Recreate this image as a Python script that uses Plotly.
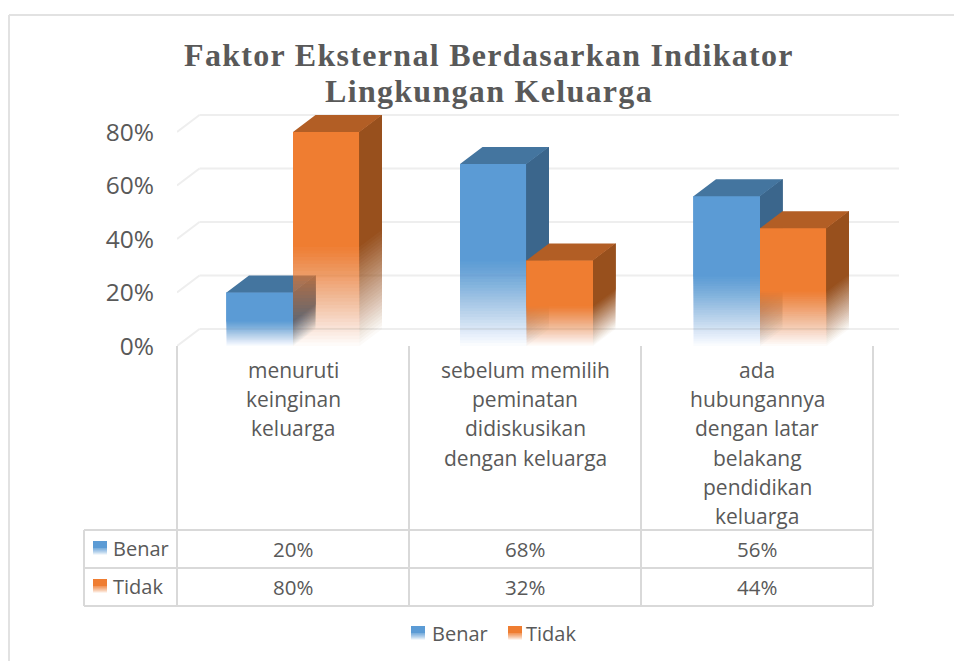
import plotly.graph_objects as go

title_text = "Faktor Eksternal Berdasarkan Indikator<br>Lingkungan Keluarga"
categories = [
    ["menuruti", "keinginan", "keluarga"],
    ["sebelum memilih", "peminatan", "didiskusikan", "dengan keluarga"],
    ["ada", "hubungannya", "dengan latar", "belakang", "pendidikan", "keluarga"],
]
series_names = ["Benar", "Tidak"]
benar = [20, 68, 56]
tidak = [80, 32, 44]
y_ticks = [0, 20, 40, 60, 80]
y_tick_labels = ["0%", "20%", "40%", "60%", "80%"]

W, H = 954, 661
TEXT = "#595959"
LINE = "#d9d9d9"
GRID = "#eeeeee"
FONT = "Open Sans"
BLUE = (91, 155, 213)
ORANGE = (239, 125, 49)
BLUE_TOP, BLUE_SIDE = "#44759f", "#3b668c"
ORANGE_TOP, ORANGE_SIDE = "#b25e25", "#98501d"


def px(x):
    return x / W


def py(y):
    return 1 - y / H


X0, X1, Y0, YT = 177, 899, 346, 100
UNIT_X = 233.5
UNIT_Y = 2.675
CAT0 = 293
x_range = [(X0 - CAT0) / UNIT_X, (X1 - CAT0) / UNIT_X]
y_range = [0, (Y0 - YT) / UNIT_Y]
DX = 22.5 / UNIT_X
DY = 17 / UNIT_Y
BW = 66.5 / UNIT_X
FADE_TOP = 0.48
STEPS = 30
xs = list(range(len(benar)))

fig = go.Figure()
shapes, annotations = [], []

for t in y_ticks:
    for (a, b, c, d) in [(x_range[0], t, x_range[0] + DX, t + DY), (x_range[0] + DX, t + DY, x_range[1], t + DY)]:
        shapes.append(dict(type="line", xref="x", yref="y", x0=a, y0=b, x1=c, y1=d,
                           line=dict(color=GRID, width=2), layer="below"))


def draw_series(values, rgb, top_col, side_col, offset, xa, ya, name):
    def rgba(c, a):
        return f"rgba({c[0]},{c[1]},{c[2]},{a:.4f})"

    side_rgb = tuple(int(side_col[i:i + 2], 16) for i in (1, 3, 5))
    prev = 0.0
    for k in range(STEPS):
        f0 = FADE_TOP * k / STEPS
        target = (k + 1) / STEPS
        a = 1 - (1 - target) / (1 - prev)
        prev = target
        fig.add_trace(go.Bar(x=xs, y=[v * (1 - f0) for v in values],
                             base=[v * f0 for v in values], width=BW, offset=offset,
                             marker=dict(color=rgba(rgb, a), line=dict(width=0)),
                             name=name, hoverinfo="skip" if k < STEPS - 1 else None,
                             showlegend=False, xaxis=xa, yaxis=ya))
        sx, sy = [], []
        for x, v in zip(xs, values):
            r = x + offset + BW
            sx += [r, r + DX, r + DX, r, r, None]
            sy += [v * f0, v * f0 + DY, v + DY, v, v * f0, None]
        fig.add_trace(go.Scatter(x=sx, y=sy, mode="lines", fill="toself", line=dict(width=0),
                                 fillcolor=rgba(side_rgb, a), hoverinfo="skip",
                                 showlegend=False, xaxis=xa, yaxis=ya))
    tx, ty = [], []
    for x, v in zip(xs, values):
        l = x + offset
        r = l + BW
        tx += [l, l + DX, r + DX, r, l, None]
        ty += [v, v + DY, v + DY, v, v, None]
    fig.add_trace(go.Scatter(x=tx, y=ty, mode="lines", fill="toself", line=dict(width=0),
                             fillcolor=top_col, hoverinfo="skip", showlegend=False, xaxis=xa, yaxis=ya))


draw_series(benar, BLUE, BLUE_TOP, BLUE_SIDE, -BW, "x", "y", series_names[0])
draw_series(tidak, ORANGE, ORANGE_TOP, ORANGE_SIDE, 0, "x2", "y2", series_names[1])


def line(x0, y0, x1, y1, color=LINE, width=2):
    shapes.append(dict(type="line", xref="paper", yref="paper", x0=px(x0), y0=py(y0),
                       x1=px(x1), y1=py(y1), line=dict(color=color, width=width), layer="above"))


def text(s, x, y, anchor="center", size=20.5):
    annotations.append(dict(text=s, xref="paper", yref="paper", x=px(x), y=py(y), xanchor=anchor,
                            yanchor="middle", showarrow=False, font=dict(family=FONT, size=size, color=TEXT)))


def swatch(x, y, rgb, size=14, n=10):
    solid = 0.55
    shapes.append(dict(type="rect", xref="paper", yref="paper", x0=px(x), x1=px(x + size), y0=py(y),
                       y1=py(y + size * solid), line=dict(width=0),
                       fillcolor=f"rgb({rgb[0]},{rgb[1]},{rgb[2]})", layer="above"))
    for i in range(n):
        a0 = y + size * (solid + (1 - solid) * i / n)
        a1 = y + size * (solid + (1 - solid) * (i + 1) / n)
        shapes.append(dict(type="rect", xref="paper", yref="paper", x0=px(x), x1=px(x + size), y0=py(a0),
                           y1=py(a1), line=dict(width=0), layer="above",
                           fillcolor=f"rgba({rgb[0]},{rgb[1]},{rgb[2]},{1 - (i + 0.5) / n:.3f})"))


line(9, 15, W, 15, "#e2e2e2", 2)
line(9, 15, 9, H, "#e2e2e2", 2)

SEP = [177, 409, 641, 873]
ROWS = [530, 568, 606]
for s in SEP:
    line(s, Y0, s, ROWS[-1])
for r in ROWS:
    line(84, r, 873, r)
line(84, ROWS[0], 84, ROWS[-1])

CENTERS = [(SEP[i] + SEP[i + 1]) / 2 for i in range(3)]
for c, lines_ in zip(CENTERS, categories):
    for i, ln in enumerate(lines_):
        text(ln, c, 370 + 29.2 * i, size=21)
for row, (nm, vals, rgb) in enumerate(zip(series_names, (benar, tidak), (BLUE, ORANGE))):
    ym = (ROWS[row] + ROWS[row + 1]) / 2
    swatch(93, ym - 8, rgb)
    text(nm, 111, ym - 0.5, "left", size=20)
    for c, v in zip(CENTERS, vals):
        text(f"{v}%", c, ym - 0.5)

swatch(411, 626, BLUE)
text(series_names[0], 430, 633, "left", size=20)
swatch(508, 626, ORANGE)
text(series_names[1], 524, 633, "left", size=20)

axis_common = dict(showgrid=False, zeroline=False, showline=False, ticks="", fixedrange=True)
fig.update_layout(
    width=W, height=H, margin=dict(l=0, r=0, t=0, b=0, autoexpand=False),
    paper_bgcolor="white", plot_bgcolor="rgba(0,0,0,0)",
    barmode="overlay", showlegend=False,
    title=dict(text=title_text, x=px(489), y=py(66), xanchor="center", yanchor="middle",
               font=dict(family="Liberation Serif", size=32, color=TEXT, weight=700)),
    xaxis=dict(domain=[px(X0), px(X1)], range=x_range, showticklabels=False, anchor="y", **axis_common),
    yaxis=dict(domain=[py(Y0), py(YT)], range=y_range, tickmode="array", tickvals=y_ticks, ticktext=y_tick_labels,
               ticklabelstandoff=22, anchor="x", tickfont=dict(family=FONT, size=24.5, color=TEXT), **axis_common),
    xaxis2=dict(domain=[px(X0), px(X1)], range=x_range, overlaying="x", visible=False, anchor="y2", **axis_common),
    yaxis2=dict(domain=[py(Y0), py(YT)], range=y_range, overlaying="y", visible=False, anchor="x2", **axis_common),
    shapes=shapes, annotations=annotations,
)

post = """
document.body.style.margin='0';
document.querySelectorAll('.gtitle').forEach(function(e){e.style.letterSpacing='1.3px';});
var ls=document.querySelectorAll('.gtitle tspan.line');
if(ls.length>1){ls[1].setAttribute('dy','36px');}
"""
fig.write_html("out.html", config={"displayModeBar": False}, post_script=post)
